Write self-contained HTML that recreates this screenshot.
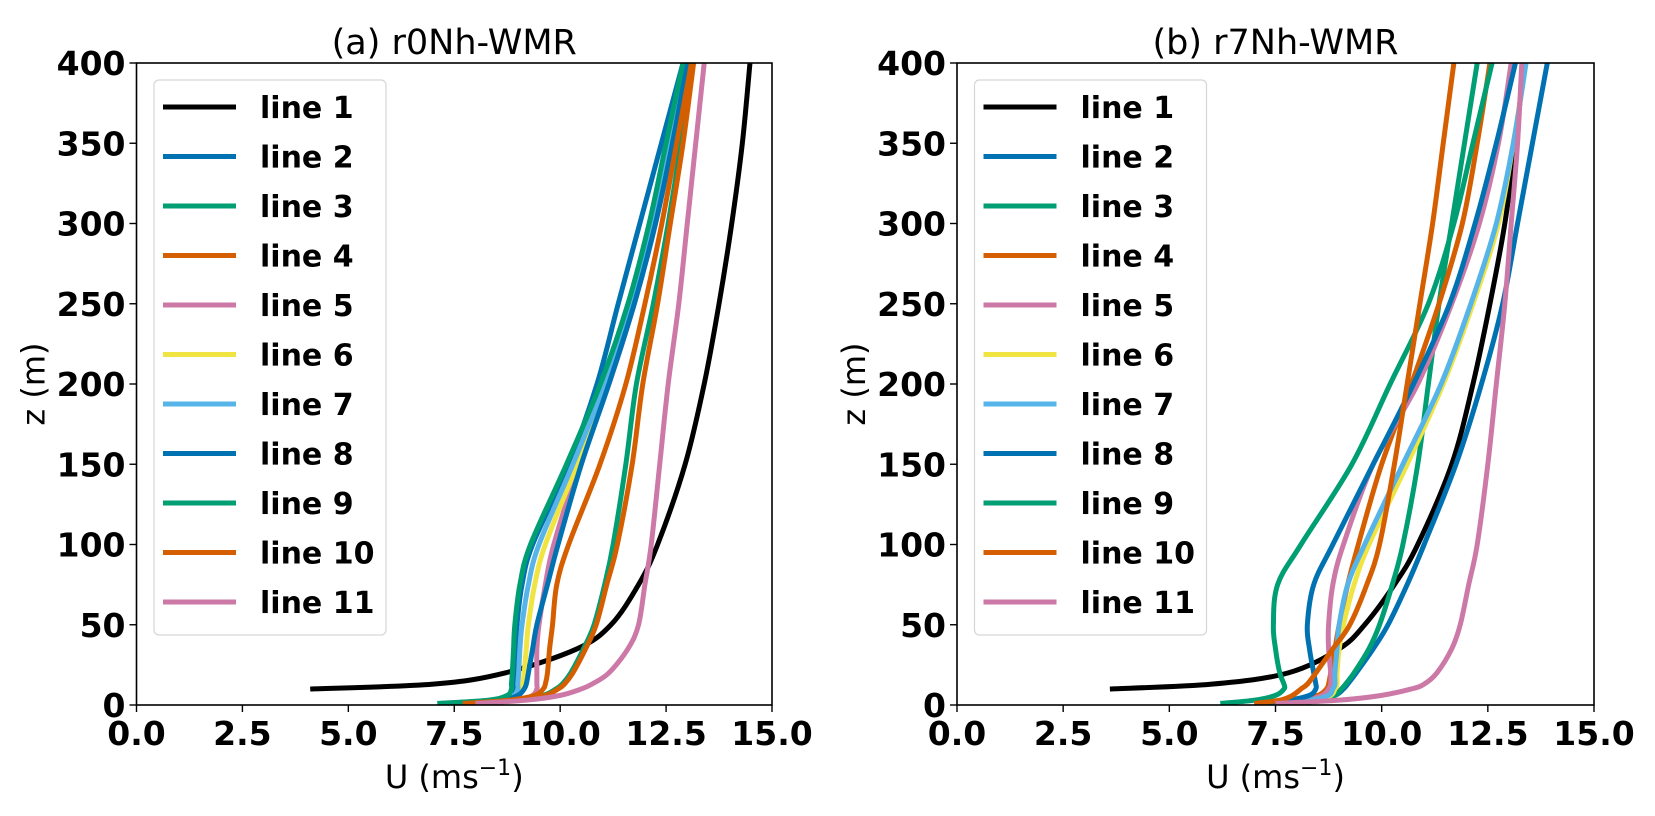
<!DOCTYPE html>
<html><head><meta charset="utf-8">
<style>
html,body{margin:0;padding:0;background:#fff;}
svg{display:block;font-family:"DejaVu Sans","Liberation Sans",sans-serif;}
</style></head>
<body>
<svg id="fig" width="1655" height="816" viewBox="0 0 1655 816"></svg>
<script>
const zLevels = [1,3,6,10,13,20,35,50,75,100,150,200,250,300,350,400];
const seriesNames = ["line 1","line 2","line 3","line 4","line 5","line 6","line 7","line 8","line 9","line 10","line 11"];
const seriesColors = ["#000000","#0072B2","#009E73","#D55E00","#CC79A7","#F0E442","#56B4E9","#0072B2","#009E73","#D55E00","#CC79A7"];
const xTicks = [0,2.5,5,7.5,10,12.5,15];
const xTickLabels = ["0.0","2.5","5.0","7.5","10.0","12.5","15.0"];
const yTicks = [0,50,100,150,200,250,300,350,400];
const panelTitles = ["(a) r0Nh-WMR","(b) r7Nh-WMR"];

// panel a
const a1  = [null,null,null,4.1,7.0,8.7,10.4,11.2,11.85,12.3,12.95,13.4,13.75,14.05,14.3,14.48];
const a2  = [7.2,8.35,8.8,8.9,8.9,8.92,8.95,8.98,9.1,9.35,10.2,10.87,11.37,11.88,12.39,12.9];
const a3  = [8.0,9.0,9.6,9.9,10.05,10.25,10.55,10.8,11.05,11.25,11.55,11.8,12.2,12.55,12.85,13.1];
const a4  = [8.0,9.05,9.65,9.95,10.1,10.3,10.6,10.85,11.1,11.35,11.7,11.95,12.3,12.6,12.9,13.15];
const a5  = [7.9,9.0,9.35,9.45,9.45,9.45,9.45,9.5,9.65,9.85,10.45,11.15,11.75,12.25,12.65,13.05];
const a6  = [7.6,8.6,9.0,9.1,9.12,9.15,9.2,9.25,9.4,9.65,10.4,11.1,11.7,12.2,12.6,13.0];
const a7  = [7.5,8.5,8.9,9.0,9.0,9.02,9.05,9.1,9.25,9.5,10.3,11.05,11.65,12.15,12.55,12.95];
const a8  = [7.5,8.6,9.0,9.15,9.2,9.25,9.35,9.45,9.7,9.95,10.5,11.15,11.75,12.25,12.65,13.0];
const a9  = [7.1,8.3,8.75,8.85,8.85,8.87,8.9,8.93,9.05,9.3,10.15,10.95,11.6,12.1,12.5,12.9];
const a10 = [7.7,8.8,9.4,9.6,9.65,9.7,9.75,9.82,9.92,10.2,10.94,11.55,12.0,12.4,12.75,13.1];
const a11 = [8.0,9.2,10.0,10.5,10.75,11.15,11.6,11.85,12.0,12.15,12.35,12.55,12.8,13.0,13.2,13.4];
// panel b
const b1  = [null,null,null,3.6,6.0,7.8,9.0,9.6,10.3,10.85,11.65,12.15,12.55,12.9,13.15,13.35];
const b2  = [7.5,8.4,8.9,9.1,9.2,9.4,9.8,10.15,10.6,11.0,11.75,12.35,12.85,13.2,13.55,13.9];
const b3  = [8.0,8.6,8.9,9.05,9.15,9.35,9.7,9.95,10.25,10.5,10.85,11.1,11.35,11.65,11.95,12.25];
const b4  = [7.2,8.0,8.5,8.7,8.75,8.8,8.9,9.0,9.2,9.45,10.0,10.7,11.35,11.9,12.25,12.55];
const b5  = [7.3,8.2,8.6,8.75,8.8,8.8,8.75,8.75,8.85,9.1,9.8,10.85,11.65,12.3,12.75,13.05];
const b6  = [7.4,8.4,8.8,8.9,8.95,8.95,9.0,9.1,9.35,9.7,10.6,11.45,12.15,12.75,13.1,13.4];
const b7  = [7.3,8.3,8.75,8.85,8.9,8.9,8.95,9.0,9.2,9.6,10.5,11.4,12.1,12.7,13.1,13.4];
const b8  = [7.0,7.8,8.3,8.45,8.45,8.4,8.3,8.25,8.4,8.85,9.8,10.75,11.6,12.2,12.7,13.15];
const b9  = [6.2,7.0,7.5,7.7,7.7,7.6,7.5,7.45,7.55,8.1,9.3,10.2,11.1,11.7,12.15,12.6];
const b10 = [7.0,7.6,7.9,8.1,8.25,8.45,8.85,9.25,9.65,9.95,10.3,10.6,10.9,11.2,11.45,11.7];
const b11 = [7.5,9.0,10.0,10.7,11.0,11.3,11.65,11.85,12.05,12.25,12.5,12.7,12.9,13.05,13.2,13.3];

const panelA = [a1,a2,a3,a4,a5,a6,a7,a8,a9,a10,a11];
const panelB = [b1,b2,b3,b4,b5,b6,b7,b8,b9,b10,b11];

const NS = "http://www.w3.org/2000/svg";
const svg = document.getElementById('fig');
function el(tag, attrs, parent){
  const e = document.createElementNS(NS, tag);
  for (const k in attrs) e.setAttribute(k, attrs[k]);
  (parent||svg).appendChild(e);
  return e;
}
const layouts = [{left:136.5,right:772,top:63,bottom:705,key:'a'},{left:957,right:1594,top:63,bottom:705,key:'b'}];

function smoothPath(pts){
  if (pts.length<2) return '';
  let d = 'M'+pts[0][0].toFixed(2)+','+pts[0][1].toFixed(2);
  for (let i=0;i<pts.length-1;i++){
    const p0=pts[Math.max(0,i-1)], p1=pts[i], p2=pts[i+1], p3=pts[Math.min(pts.length-1,i+2)];
    const c1=[p1[0]+(p2[0]-p0[0])/6, p1[1]+(p2[1]-p0[1])/6];
    const c2=[p2[0]-(p3[0]-p1[0])/6, p2[1]-(p3[1]-p1[1])/6];
    d+=' C'+c1[0].toFixed(2)+','+c1[1].toFixed(2)+' '+c2[0].toFixed(2)+','+c2[1].toFixed(2)+' '+p2[0].toFixed(2)+','+p2[1].toFixed(2);
  }
  return d;
}

layouts.forEach((L, pi) => {
  const data = pi===0 ? panelA : panelB;
  const xs = u => L.left + (u-0)/(15-0)*(L.right-L.left);
  const ys = z => L.bottom - (z-0)/(400-0)*(L.bottom-L.top);
  const g = el('g', {});
  
  
  const cp = el('clipPath', {id:'clip'+pi}, g);
  el('rect', {x:L.left, y:L.top, width:L.right-L.left, height:L.bottom-L.top}, cp);

  const t = el('text', {x:(L.left+L.right)/2, y:L.top-9, 'text-anchor':'middle', 'font-size':'35', fill:'#000'}, g);
  t.textContent = panelTitles[pi];
  
  

  const sg = el('g', {'clip-path':'url(#clip'+pi+')'}, g);
  data.forEach((arr, si) => {
    const pts = [];
    arr.forEach((u, k) => { if (u!==null) pts.push([xs(u), ys(zLevels[k])]); });
    const p = el('path', {d:smoothPath(pts), fill:'none', stroke:seriesColors[si], 'stroke-width':'5', 'stroke-linejoin':'round', 'stroke-linecap':'butt'}, sg);
    
    
  });

  const fr = el('rect', {x:L.left, y:L.top, width:L.right-L.left, height:L.bottom-L.top, fill:'none', stroke:'#000', 'stroke-width':'1.6'}, g);
  
  

  xTicks.forEach((v, i) => {
    el('line', {x1:xs(v), x2:xs(v), y1:L.bottom, y2:L.bottom+7, stroke:'#000', 'stroke-width':'1.4'}, g);
    const tx = el('text', {x:xs(v), y:L.bottom+40, 'text-anchor':'middle', 'font-size':'33', 'font-weight':'bold', fill:'#000'}, g);
    tx.textContent = xTickLabels[i];
    
    
  });
  yTicks.forEach(v => {
    el('line', {x1:L.left-7, x2:L.left, y1:ys(v), y2:ys(v), stroke:'#000', 'stroke-width':'1.4'}, g);
    const ty = el('text', {x:L.left-11, y:ys(v)+12, 'text-anchor':'end', 'font-size':'33', 'font-weight':'bold', fill:'#000'}, g);
    ty.textContent = String(v);
    
    
  });
  const xl = el('text', {x:(L.left+L.right)/2, y:788, 'text-anchor':'middle', 'font-size':'32', fill:'#000'}, g);
  xl.innerHTML = 'U (ms<tspan dy="-13" font-size="22">\u22121</tspan><tspan dy="13">)</tspan>';
  
  
  const yx = L.left-92, yy = (L.top+L.bottom)/2;
  const yl = el('text', {x:yx, y:yy, 'text-anchor':'middle', 'font-size':'32', fill:'#000', transform:'rotate(-90 '+yx+' '+yy+')'}, g);
  yl.textContent = 'z (m)';
  
  

  const lg = el('g', {}, g);
  
  
  const lx = L.left+17.5;
  el('rect', {x:lx, y:80, width:232, height:555, rx:5, fill:'#fff', 'fill-opacity':'0.8', stroke:'#d6d6d6', 'stroke-width':'1.2'}, lg);
  seriesNames.forEach((nm, i) => {
    const cy = 107 + i*49.5;
    const e = el('g', {}, lg);
    
    
    el('line', {x1:lx+9, x2:lx+82, y1:cy, y2:cy, stroke:seriesColors[i], 'stroke-width':'5'}, e);
    const tt = el('text', {x:lx+106, y:cy+11, 'font-size':'30', 'font-weight':'bold', fill:'#000'}, e);
    tt.textContent = nm;
  });
});
</script>
</body></html>
